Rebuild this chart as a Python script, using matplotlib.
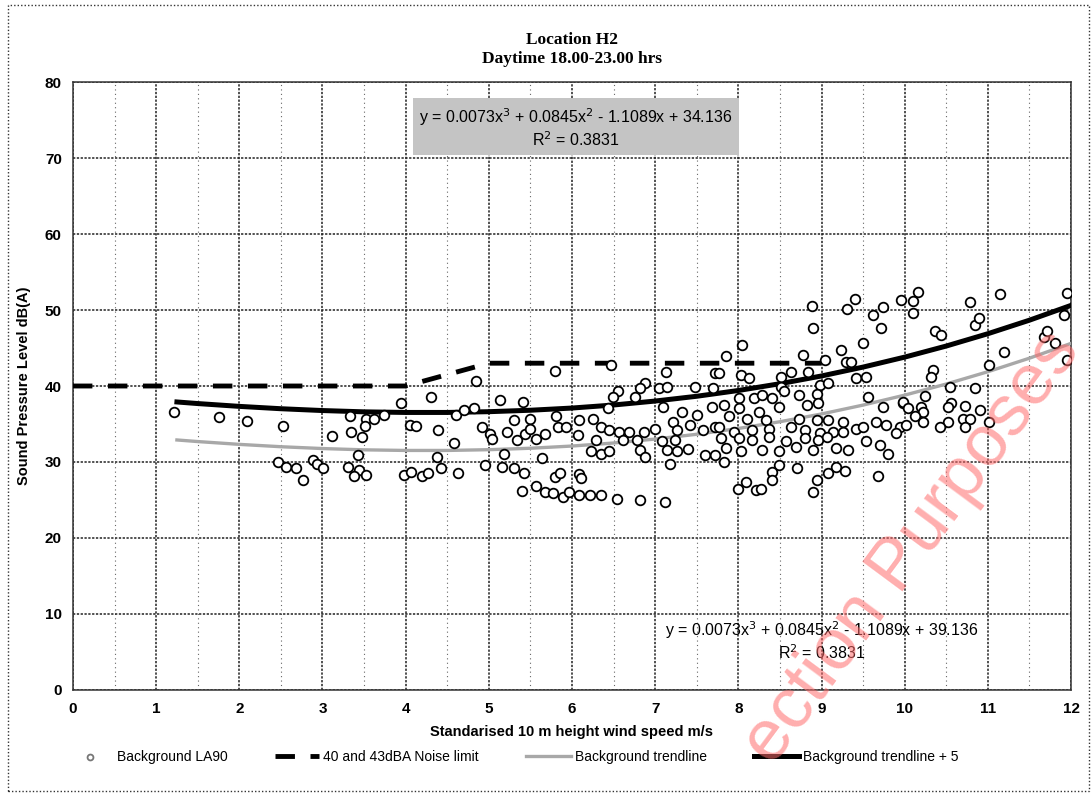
import numpy as np
import matplotlib
matplotlib.use("Agg")
import matplotlib.pyplot as plt
from matplotlib.ticker import MultipleLocator
from matplotlib.patches import Rectangle

plt.rcParams['font.family'] = ['Liberation Sans Narrow', 'Liberation Sans', 'DejaVu Sans']

la90_1_to_3 = [
    (1.22, 36.6), (1.75, 35.9), (2.09, 35.4), (2.52, 34.8), (3.11, 33.4),
    (2.46, 30.0), (2.56, 29.4), (2.68, 29.2), (2.89, 30.3), (2.94, 29.7),
    (3.01, 29.2), (2.76, 27.6),
]
la90_3_to_5 = [
    (4.85, 40.6), (4.30, 38.6), (3.94, 37.8), (3.74, 36.2), (3.33, 36.0),
    (3.52, 35.6), (3.62, 35.6), (3.51, 34.7), (3.34, 33.9), (3.48, 33.3),
    (3.43, 30.9), (3.31, 29.4), (3.44, 28.9), (3.38, 28.1), (3.52, 28.3),
    (4.05, 34.9), (4.12, 34.7), (4.39, 34.2), (3.98, 28.3), (4.06, 28.7),
    (4.20, 28.1), (4.27, 28.5), (4.38, 30.7), (4.42, 29.2), (4.63, 28.6),
    (4.60, 36.2), (4.70, 36.8), (4.82, 37.1), (4.58, 32.5), (4.92, 34.6),
    (5.02, 33.7), (5.04, 33.0), (5.13, 38.2), (5.41, 37.9), (5.22, 34.0),
    (5.30, 35.5), (5.34, 32.9), (5.44, 33.7), (5.18, 31.1), (4.96, 29.6),
    (5.16, 29.4), (5.30, 29.2), (5.42, 28.6), (5.40, 26.2),
]
la90_5_to_8 = [
    (5.79, 42.0), (6.47, 42.8), (7.13, 41.9), (7.72, 41.7), (6.88, 40.4),
    (6.82, 39.8), (6.55, 39.3), (6.49, 38.6), (6.76, 38.6), (7.05, 39.7),
    (7.14, 39.9), (7.48, 39.9), (7.70, 39.8), (6.43, 37.1), (7.10, 37.3),
    (7.32, 36.6), (7.50, 36.2), (7.68, 37.3), (5.81, 36.1), (6.09, 35.5),
    (6.25, 35.7), (5.83, 34.6), (5.93, 34.6), (5.49, 35.7), (5.49, 34.4),
    (5.68, 33.7), (5.57, 33.0), (6.07, 33.6), (6.35, 34.6), (6.45, 34.2),
    (6.57, 34.0), (6.69, 34.0), (6.86, 34.0), (7.00, 34.3), (7.22, 35.2),
    (7.26, 34.2), (7.42, 34.9), (7.58, 34.2), (7.72, 34.6), (6.29, 32.9),
    (6.61, 32.9), (6.78, 32.9), (7.08, 32.7), (7.24, 32.9), (6.23, 31.4),
    (6.35, 31.1), (6.45, 31.4), (6.82, 31.6), (6.88, 30.7), (7.14, 31.6),
    (7.26, 31.5), (7.40, 31.7), (7.60, 30.9), (7.72, 30.9), (5.64, 30.5),
    (7.18, 29.8), (5.79, 28.0), (5.85, 28.6), (6.09, 28.4), (6.11, 27.9),
    (5.57, 26.8), (5.67, 26.1), (5.77, 25.9), (5.89, 25.4), (5.97, 26.1),
    (6.09, 25.7), (6.22, 25.7), (6.35, 25.7), (6.54, 25.1), (6.82, 25.0),
    (7.12, 24.8),
]
la90_8_to_10 = [
    (9.40, 51.5), (9.96, 51.3), (8.88, 50.5), (9.31, 50.1), (9.74, 50.4),
    (9.62, 49.3), (8.90, 47.6), (9.72, 47.6), (8.05, 45.4), (9.50, 45.7),
    (9.24, 44.7), (7.85, 43.9), (8.78, 44.1), (9.04, 43.4), (9.30, 43.2),
    (9.36, 43.2), (7.77, 41.7), (8.03, 41.4), (8.13, 41.1), (8.51, 41.2),
    (8.63, 41.9), (8.84, 41.9), (9.42, 41.0), (9.54, 41.2), (8.51, 39.9),
    (8.98, 40.1), (9.08, 40.4), (8.55, 39.3), (8.73, 38.8), (8.94, 39.0),
    (8.01, 38.4), (8.19, 38.4), (8.29, 38.8), (8.41, 38.4), (9.56, 38.6),
    (7.83, 37.5), (8.01, 37.1), (8.25, 36.6), (8.49, 37.3), (8.82, 37.5),
    (8.96, 37.7), (9.74, 37.3), (9.98, 37.7), (7.89, 36.0), (8.11, 35.7),
    (8.33, 35.5), (8.73, 35.7), (8.94, 35.5), (9.08, 35.5), (9.26, 35.3),
    (9.65, 35.3), (9.78, 34.9), (9.94, 34.6), (7.77, 34.6), (7.95, 34.0),
    (8.16, 34.2), (8.37, 34.4), (8.63, 34.6), (8.80, 34.2), (8.98, 33.8),
    (9.14, 34.0), (9.42, 34.4), (9.50, 34.6), (7.79, 33.1), (8.01, 33.1),
    (8.17, 32.9), (8.37, 33.3), (8.57, 32.7), (8.80, 33.1), (8.96, 32.9),
    (9.06, 33.3), (9.26, 34.0), (9.54, 32.7), (9.90, 33.8), (7.85, 31.8),
    (8.03, 31.4), (8.29, 31.6), (8.49, 31.4), (8.69, 32.0), (8.90, 31.6),
    (9.18, 31.8), (9.32, 31.6), (9.70, 32.2), (9.80, 31.1), (7.83, 30.0),
    (8.49, 29.6), (8.71, 29.2), (9.18, 29.4), (9.28, 28.8), (9.08, 28.5),
    (8.41, 28.7), (8.41, 27.6), (8.09, 27.4), (7.99, 26.5), (8.21, 26.3),
    (8.27, 26.5), (8.94, 27.6), (8.90, 26.1), (9.68, 28.1),
]
la90_10_to_12 = [
    (10.16, 52.4), (10.10, 51.2), (11.15, 52.1), (10.78, 51.1), (11.95, 52.2),
    (10.10, 49.6), (10.85, 48.0), (10.89, 49.0), (11.91, 49.3), (10.36, 47.3),
    (10.44, 46.7), (11.67, 46.5), (11.71, 47.3), (11.81, 45.6), (11.19, 44.5),
    (11.95, 43.4), (11.01, 42.8), (10.34, 42.1), (10.32, 41.2), (10.54, 39.9),
    (10.85, 39.7), (10.24, 38.7), (9.98, 37.9), (10.04, 37.1), (10.20, 37.3),
    (10.22, 36.6), (10.56, 37.7), (10.52, 37.3), (10.72, 37.4), (10.90, 36.8),
    (10.12, 36.1), (10.22, 35.3), (10.70, 35.7), (10.78, 35.7), (10.52, 35.2),
    (10.42, 34.6), (10.72, 34.6), (11.01, 35.2), (10.02, 34.9),
]

# noise limit
limit_x = [0, 4, 5, 9]
limit_y = [40, 40, 43, 43]

# background trendline and trendline + 5
trend_x = [1.25, 1.5, 2, 2.5, 3, 3.5, 4, 4.5, 5, 5.5, 6, 6.5, 7, 7.5, 8,
           8.5, 9, 9.5, 10, 10.5, 11, 11.5, 12]
trend_y = [32.9, 32.69, 32.32, 32.01, 31.77, 31.60, 31.52, 31.52, 31.62, 31.81,
           32.10, 32.50, 33.02, 33.65, 34.41, 35.30, 36.32, 37.49, 38.80, 40.26,
           41.88, 43.66, 45.61]
trend5_y = [37.9, 37.69, 37.32, 37.01, 36.77, 36.60, 36.52, 36.52, 36.62, 36.81,
            37.10, 37.50, 38.02, 38.65, 39.41, 40.30, 41.32, 42.49, 43.80, 45.26,
            46.88, 48.66, 50.61]

eq_trend = "y = 0.0073x$^3$ + 0.0845x$^2$ - 1.1089x + 34.136\nR$^2$ = 0.3831"
eq_trend5 = "y = 0.0073x$^3$ + 0.0845x$^2$ - 1.1089x + 39.136\nR$^2$ = 0.3831"

pts = np.array(la90_1_to_3 + la90_3_to_5 + la90_5_to_8 + la90_8_to_10 + la90_10_to_12)

fig = plt.figure(figsize=(10.92, 7.94), dpi=100)
ax = fig.add_axes([0.0668, 0.131, 0.914, 0.7657])
ax.set_xlim(0, 12)
ax.set_ylim(0, 80)

ax.plot(limit_x, limit_y, color='black', lw=3.5, dashes=(4, 3.2), zorder=3,
        label="40 and 43dBA Noise limit")
ax.plot(trend_x, trend_y, color='#a8a8a8', lw=2.4, zorder=3, label="Background trendline")
ax.plot(trend_x, trend5_y, color='black', lw=3.6, zorder=3, label="Background trendline + 5")
ax.scatter(pts[:, 0], pts[:, 1], s=48, facecolors='white', edgecolors='black',
           linewidths=1.3, zorder=4, label="Background LA90")

# grid: dotted majors, faint minor verticals at 0.5
ax.xaxis.set_major_locator(MultipleLocator(1))
ax.xaxis.set_minor_locator(MultipleLocator(0.5))
ax.yaxis.set_major_locator(MultipleLocator(10))
ax.grid(True, which='major', color='#222222', lw=1.1, ls=(0, (1.5, 1)))
ax.grid(True, which='minor', axis='x', color='#666666', lw=0.8, ls=(0, (1, 3)))
ax.set_axisbelow(True)
for sp in ax.spines.values():
    sp.set_color('#333333')
    sp.set_linestyle((0, (1.5, 1)))
    sp.set_linewidth(1.1)
ax.tick_params(which='both', length=0)
ax.tick_params(axis='x', pad=9, labelsize=11)
ax.tick_params(axis='y', pad=8, labelsize=11)
for lab in ax.get_xticklabels() + ax.get_yticklabels():
    lab.set_fontweight('bold')

ax.set_xlabel("Standarised 10 m height wind speed m/s", fontsize=10.5,
              fontweight='bold', labelpad=6)
ax.set_ylabel("Sound Pressure Level dB(A)", fontsize=10.5, fontweight='bold', labelpad=10)

ax.set_title("Location H2\nDaytime 18.00-23.00 hrs", fontsize=12.5, fontweight='bold',
             family=['Liberation Serif', 'DejaVu Serif'], pad=14, linespacing=1.2)

ax.text(6.05, 74.0, eq_trend, ha='center', va='center', fontsize=11.5, zorder=5,
        linespacing=1.15,
        bbox=dict(facecolor='#c4c4c4', edgecolor='none', boxstyle='square,pad=0.4'))
ax.text(9.0, 6.5, eq_trend5, ha='center', va='center', fontsize=11.5, zorder=5,
        linespacing=1.15)

leg = fig.legend(handles=[ax.collections[0], ax.lines[0], ax.lines[1], ax.lines[2]],
                 loc='center', bbox_to_anchor=(0.47, 0.047), ncol=4, frameon=False,
                 fontsize=10, columnspacing=3.4, handlelength=3.2, handletextpad=0.3)
leg.legend_handles[0].set_sizes([18])
leg.legend_handles[0].set_edgecolor('#777777')

# scanned watermark (only this part of it is on the page)
fig.text(0.835, 0.31, "ection Purposes", rotation=53.5, ha='center', va='center',
         rotation_mode='anchor', fontsize=52, color='#ff6b6b', alpha=0.55,
         family=['Liberation Sans', 'DejaVu Sans'], zorder=10)

# dotted page frame
fig.patches.append(Rectangle((0.007, 0.004), 0.99, 0.99, transform=fig.transFigure,
                             fill=False, ls=(0, (1, 1.5)), lw=1, color='#333333'))

fig.savefig("out.png", dpi=100)
